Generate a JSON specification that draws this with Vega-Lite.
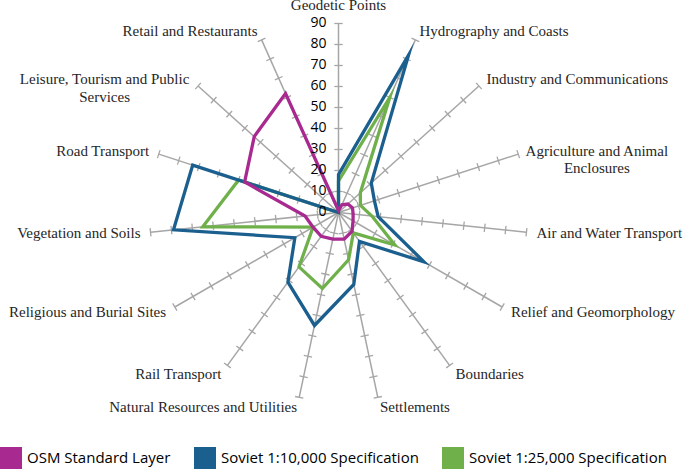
{
  "$schema": "https://vega.github.io/schema/vega-lite/v6.json",
  "width": 685,
  "height": 473,
  "autosize": "none",
  "padding": 0,
  "background": "white",
  "config": {"view": {"stroke": null}},
  "params": [
    {"name": "cats", "value": ["Geodetic Points", "Hydrography and Coasts", "Industry and Communications", "Agriculture and Animal Enclosures", "Air and Water Transport", "Relief and Geomorphology", "Boundaries", "Settlements", "Natural Resources and Utilities", "Rail Transport", "Religious and Burial Sites", "Vegetation and Soils", "Road Transport", "Leisure, Tourism and Public Services", "Retail and Restaurants"]}
  ],
  "datasets": {
    "series": [
      {"series": "OSM Standard Layer", "category": "Geodetic Points", "value": 1},
      {"series": "OSM Standard Layer", "category": "Hydrography and Coasts", "value": 4},
      {"series": "OSM Standard Layer", "category": "Industry and Communications", "value": 6},
      {"series": "OSM Standard Layer", "category": "Agriculture and Animal Enclosures", "value": 7},
      {"series": "OSM Standard Layer", "category": "Air and Water Transport", "value": 7},
      {"series": "OSM Standard Layer", "category": "Relief and Geomorphology", "value": 8},
      {"series": "OSM Standard Layer", "category": "Boundaries", "value": 11},
      {"series": "OSM Standard Layer", "category": "Settlements", "value": 13},
      {"series": "OSM Standard Layer", "category": "Natural Resources and Utilities", "value": 13},
      {"series": "OSM Standard Layer", "category": "Rail Transport", "value": 14},
      {"series": "OSM Standard Layer", "category": "Religious and Burial Sites", "value": 14},
      {"series": "OSM Standard Layer", "category": "Vegetation and Soils", "value": 16},
      {"series": "OSM Standard Layer", "category": "Road Transport", "value": 47},
      {"series": "OSM Standard Layer", "category": "Leisure, Tourism and Public Services", "value": 54},
      {"series": "OSM Standard Layer", "category": "Retail and Restaurants", "value": 62},
      {"series": "Soviet 1:10,000 Specification", "category": "Geodetic Points", "value": 18},
      {"series": "Soviet 1:10,000 Specification", "category": "Hydrography and Coasts", "value": 82},
      {"series": "Soviet 1:10,000 Specification", "category": "Industry and Communications", "value": 21},
      {"series": "Soviet 1:10,000 Specification", "category": "Agriculture and Animal Enclosures", "value": 18},
      {"series": "Soviet 1:10,000 Specification", "category": "Air and Water Transport", "value": 19},
      {"series": "Soviet 1:10,000 Specification", "category": "Relief and Geomorphology", "value": 47},
      {"series": "Soviet 1:10,000 Specification", "category": "Boundaries", "value": 17},
      {"series": "Soviet 1:10,000 Specification", "category": "Settlements", "value": 35},
      {"series": "Soviet 1:10,000 Specification", "category": "Natural Resources and Utilities", "value": 55},
      {"series": "Soviet 1:10,000 Specification", "category": "Rail Transport", "value": 41},
      {"series": "Soviet 1:10,000 Specification", "category": "Religious and Burial Sites", "value": 24},
      {"series": "Soviet 1:10,000 Specification", "category": "Vegetation and Soils", "value": 79},
      {"series": "Soviet 1:10,000 Specification", "category": "Road Transport", "value": 73},
      {"series": "Soviet 1:10,000 Specification", "category": "Leisure, Tourism and Public Services", "value": 0},
      {"series": "Soviet 1:10,000 Specification", "category": "Retail and Restaurants", "value": 0},
      {"series": "Soviet 1:25,000 Specification", "category": "Geodetic Points", "value": 15},
      {"series": "Soviet 1:25,000 Specification", "category": "Hydrography and Coasts", "value": 60},
      {"series": "Soviet 1:25,000 Specification", "category": "Industry and Communications", "value": 14},
      {"series": "Soviet 1:25,000 Specification", "category": "Agriculture and Animal Enclosures", "value": 11},
      {"series": "Soviet 1:25,000 Specification", "category": "Air and Water Transport", "value": 16},
      {"series": "Soviet 1:25,000 Specification", "category": "Relief and Geomorphology", "value": 31},
      {"series": "Soviet 1:25,000 Specification", "category": "Boundaries", "value": 12},
      {"series": "Soviet 1:25,000 Specification", "category": "Settlements", "value": 23},
      {"series": "Soviet 1:25,000 Specification", "category": "Natural Resources and Utilities", "value": 37},
      {"series": "Soviet 1:25,000 Specification", "category": "Rail Transport", "value": 32},
      {"series": "Soviet 1:25,000 Specification", "category": "Religious and Burial Sites", "value": 14},
      {"series": "Soviet 1:25,000 Specification", "category": "Vegetation and Soils", "value": 65},
      {"series": "Soviet 1:25,000 Specification", "category": "Road Transport", "value": 50},
      {"series": "Soviet 1:25,000 Specification", "category": "Leisure, Tourism and Public Services", "value": 0},
      {"series": "Soviet 1:25,000 Specification", "category": "Retail and Restaurants", "value": 0}
    ],
    "axes": [
      {"category": "Geodetic Points", "label": "Geodetic Points", "levels": [10, 20, 30, 40, 50, 60, 70, 80, 90]},
      {"category": "Hydrography and Coasts", "label": "Hydrography and Coasts", "levels": [10, 20, 30, 40, 50, 60, 70, 80, 90]},
      {"category": "Industry and Communications", "label": "Industry and Communications", "levels": [10, 20, 30, 40, 50, 60, 70, 80, 90]},
      {"category": "Agriculture and Animal Enclosures", "label": "Agriculture and Animal\nEnclosures", "levels": [10, 20, 30, 40, 50, 60, 70, 80, 90]},
      {"category": "Air and Water Transport", "label": "Air and Water Transport", "levels": [10, 20, 30, 40, 50, 60, 70, 80, 90]},
      {"category": "Relief and Geomorphology", "label": "Relief and Geomorphology", "levels": [10, 20, 30, 40, 50, 60, 70, 80, 90]},
      {"category": "Boundaries", "label": "Boundaries", "levels": [10, 20, 30, 40, 50, 60, 70, 80, 90]},
      {"category": "Settlements", "label": "Settlements", "levels": [10, 20, 30, 40, 50, 60, 70, 80, 90]},
      {"category": "Natural Resources and Utilities", "label": "Natural Resources and Utilities", "levels": [10, 20, 30, 40, 50, 60, 70, 80, 90]},
      {"category": "Rail Transport", "label": "Rail Transport", "levels": [10, 20, 30, 40, 50, 60, 70, 80, 90]},
      {"category": "Religious and Burial Sites", "label": "Religious and Burial Sites", "levels": [10, 20, 30, 40, 50, 60, 70, 80, 90]},
      {"category": "Vegetation and Soils", "label": "Vegetation and Soils", "levels": [10, 20, 30, 40, 50, 60, 70, 80, 90]},
      {"category": "Road Transport", "label": "Road Transport", "levels": [10, 20, 30, 40, 50, 60, 70, 80, 90]},
      {"category": "Leisure, Tourism and Public Services", "label": "Leisure, Tourism and Public\nServices", "levels": [10, 20, 30, 40, 50, 60, 70, 80, 90]},
      {"category": "Retail and Restaurants", "label": "Retail and Restaurants", "levels": [10, 20, 30, 40, 50, 60, 70, 80, 90]}
    ],
    "radial": [
      {"level": 0}, {"level": 10}, {"level": 20}, {"level": 30}, {"level": 40},
      {"level": 50}, {"level": 60}, {"level": 70}, {"level": 80}, {"level": 90}
    ]
  },
  "encoding": {
    "x": {"field": "px", "type": "quantitative", "axis": null, "scale": {"domain": [-161.19, 165.0], "zero": false, "nice": false}},
    "y": {"field": "py", "type": "quantitative", "axis": null, "scale": {"domain": [-124.05, 101.19], "zero": false, "nice": false}}
  },
  "layer": [
    {
      "data": {"name": "axes"},
      "transform": [
        {"calculate": "indexof(cats, datum.category) * 24 * PI / 180", "as": "a"},
        {"calculate": "0", "as": "px"},
        {"calculate": "0", "as": "py"},
        {"calculate": "90 * sin(datum.a)", "as": "px2"},
        {"calculate": "90 * cos(datum.a)", "as": "py2"}
      ],
      "mark": {"type": "rule", "color": "#a6a6a6", "strokeWidth": 1.5},
      "encoding": {"x2": {"field": "px2"}, "y2": {"field": "py2"}}
    },
    {
      "data": {"name": "axes"},
      "transform": [
        {"flatten": ["levels"], "as": ["level"]},
        {"calculate": "indexof(cats, datum.category) * 24 * PI / 180", "as": "a"},
        {"calculate": "datum.level * sin(datum.a) + 2 * cos(datum.a)", "as": "px"},
        {"calculate": "datum.level * cos(datum.a) - 2 * sin(datum.a)", "as": "py"},
        {"calculate": "datum.level * sin(datum.a) - 2 * cos(datum.a)", "as": "px2"},
        {"calculate": "datum.level * cos(datum.a) + 2 * sin(datum.a)", "as": "py2"}
      ],
      "mark": {"type": "rule", "color": "#a6a6a6", "strokeWidth": 1.3},
      "encoding": {"x2": {"field": "px2"}, "y2": {"field": "py2"}}
    },
    {
      "data": {"name": "series"},
      "transform": [
        {"filter": "datum.series === 'Soviet 1:25,000 Specification'"},
        {"calculate": "indexof(cats, datum.category)", "as": "idx"},
        {"calculate": "datum.idx * 24 * PI / 180", "as": "a"},
        {"calculate": "datum.value * sin(datum.a)", "as": "px"},
        {"calculate": "datum.value * cos(datum.a)", "as": "py"}
      ],
      "mark": {"type": "line", "interpolate": "linear-closed", "strokeWidth": 3.3, "strokeMiterLimit": 10},
      "encoding": {
        "order": {"field": "idx", "type": "quantitative"},
        "color": {"field": "series", "type": "nominal"}
      }
    },
    {
      "data": {"name": "series"},
      "transform": [
        {"filter": "datum.series === 'Soviet 1:10,000 Specification'"},
        {"calculate": "indexof(cats, datum.category)", "as": "idx"},
        {"calculate": "datum.idx * 24 * PI / 180", "as": "a"},
        {"calculate": "datum.value * sin(datum.a)", "as": "px"},
        {"calculate": "datum.value * cos(datum.a)", "as": "py"}
      ],
      "mark": {"type": "line", "interpolate": "linear-closed", "strokeWidth": 3.3, "strokeMiterLimit": 10},
      "encoding": {
        "order": {"field": "idx", "type": "quantitative"},
        "color": {"field": "series", "type": "nominal"}
      }
    },
    {
      "data": {"name": "series"},
      "transform": [
        {"filter": "datum.series === 'OSM Standard Layer'"},
        {"calculate": "indexof(cats, datum.category)", "as": "idx"},
        {"calculate": "datum.idx * 24 * PI / 180", "as": "a"},
        {"calculate": "datum.value * sin(datum.a)", "as": "px"},
        {"calculate": "datum.value * cos(datum.a)", "as": "py"}
      ],
      "mark": {"type": "line", "interpolate": "linear-closed", "strokeWidth": 3.3, "strokeMiterLimit": 10},
      "encoding": {
        "order": {"field": "idx", "type": "quantitative"},
        "color": {
          "field": "series",
          "type": "nominal",
          "scale": {
            "domain": ["OSM Standard Layer", "Soviet 1:10,000 Specification", "Soviet 1:25,000 Specification"],
            "range": ["#a8298f", "#1b5f8f", "#6fb04b"]
          },
          "legend": {
            "orient": "none",
            "legendX": 0,
            "legendY": 447,
            "direction": "horizontal",
            "title": null,
            "padding": 0,
            "symbolType": "square",
            "symbolSize": 484,
            "symbolStrokeWidth": 0,
            "labelFont": "Open Sans",
            "labelFontSize": 15,
            "labelColor": "#000000",
            "labelOffset": 5,
            "labelLimit": 400,
            "columnPadding": 23,
            "encode": {"symbols": {"update": {"fill": {"scale": "color", "field": "value"}, "fillOpacity": {"value": 1}, "strokeWidth": {"value": 0}}}}
          }
        }
      }
    },
    {
      "data": {"name": "radial"},
      "transform": [
        {"calculate": "0", "as": "px"},
        {"calculate": "datum.level", "as": "py"}
      ],
      "mark": {"type": "text", "align": "right", "baseline": "middle", "dx": -12, "font": "Open Sans", "fontSize": 14, "color": "#000000"},
      "encoding": {"text": {"field": "level", "type": "quantitative"}}
    },
    {
      "data": {"name": "axes"},
      "transform": [
        {"calculate": "indexof(cats, datum.category) * 24 * PI / 180", "as": "a"},
        {"filter": "sin(datum.a) > 0.2 && datum.category !== 'Agriculture and Animal Enclosures'"},
        {"calculate": "94.8 * sin(datum.a)", "as": "px"},
        {"calculate": "94.8 * cos(datum.a)", "as": "py"}
      ],
      "mark": {"type": "text", "align": "left", "baseline": "middle", "font": "Liberation Serif", "fontSize": 15, "color": "#262626"},
      "encoding": {"text": {"field": "label"}}
    },
    {
      "data": {"name": "axes"},
      "transform": [
        {"calculate": "indexof(cats, datum.category) * 24 * PI / 180", "as": "a"},
        {"filter": "sin(datum.a) < -0.2 && datum.category !== 'Leisure, Tourism and Public Services'"},
        {"calculate": "94.8 * sin(datum.a)", "as": "px"},
        {"calculate": "94.8 * cos(datum.a)", "as": "py"}
      ],
      "mark": {"type": "text", "align": "right", "baseline": "middle", "font": "Liberation Serif", "fontSize": 15, "color": "#262626"},
      "encoding": {"text": {"field": "label"}}
    },
    {
      "data": {"name": "axes"},
      "transform": [
        {"filter": "datum.category === 'Geodetic Points'"},
        {"calculate": "0", "as": "px"},
        {"calculate": "94.8", "as": "py"}
      ],
      "mark": {"type": "text", "align": "center", "baseline": "bottom", "font": "Liberation Serif", "fontSize": 15, "color": "#262626"},
      "encoding": {"text": {"field": "label"}}
    },
    {
      "data": {"name": "axes"},
      "transform": [
        {"filter": "datum.category === 'Agriculture and Animal Enclosures'"},
        {"calculate": "indexof(cats, datum.category) * 24 * PI / 180", "as": "a"},
        {"calculate": "94.8 * sin(datum.a)", "as": "px"},
        {"calculate": "94.8 * cos(datum.a)", "as": "py"}
      ],
      "mark": {"type": "text", "align": "center", "baseline": "middle", "dx": 69, "lineBreak": "\n", "lineHeight": 17, "font": "Liberation Serif", "fontSize": 15, "color": "#262626"},
      "encoding": {"text": {"field": "label"}}
    },
    {
      "data": {"name": "axes"},
      "transform": [
        {"filter": "datum.category === 'Leisure, Tourism and Public Services'"},
        {"calculate": "indexof(cats, datum.category) * 24 * PI / 180", "as": "a"},
        {"calculate": "94.8 * sin(datum.a)", "as": "px"},
        {"calculate": "94.8 * cos(datum.a)", "as": "py"}
      ],
      "mark": {"type": "text", "align": "center", "baseline": "middle", "dx": -86, "lineBreak": "\n", "lineHeight": 18, "font": "Liberation Serif", "fontSize": 15, "color": "#262626"},
      "encoding": {"text": {"field": "label"}}
    }
  ]
}
